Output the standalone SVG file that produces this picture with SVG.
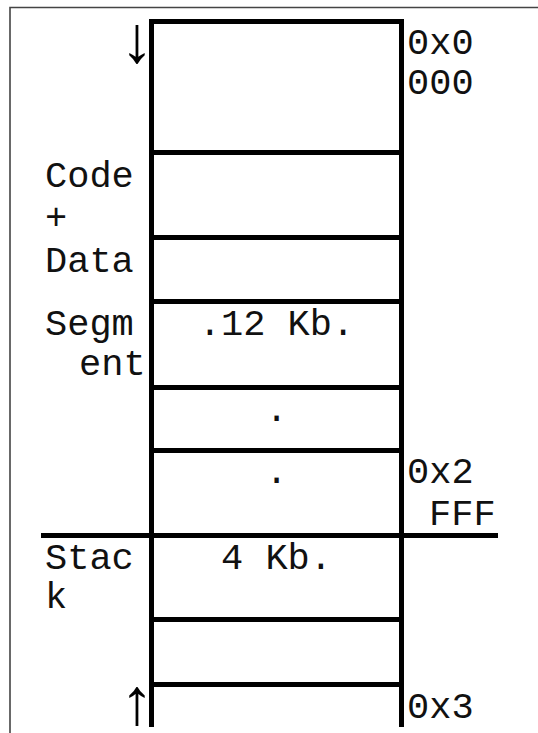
<svg xmlns="http://www.w3.org/2000/svg" width="538" height="733" viewBox="0 0 538 733">
<style>
.t{font-family:"Courier New","Liberation Mono",monospace;font-size:37px;fill:#111}
.c{text-anchor:middle}
.thick{stroke:#000;stroke-width:5;fill:none}
.frame{stroke:#444;stroke-width:1.6;fill:none}
.arr{font-family:"Liberation Sans","Noto Sans",sans-serif;font-size:66px;fill:#000;text-anchor:middle}
</style>
<rect width="538" height="733" fill="#fff"/>
<g id="frame">
<path class="frame" d="M10,733 V7.5 H538"/>
</g>
<g id="connectors">
<path class="thick" d="M151.5,19 V727 M401.5,19 V727"/>
<path class="thick" d="M149,21.5 H404 M149,152.5 H404 M149,237.5 H404 M149,301.5 H404 M149,387.5 H404 M149,450.5 H404 M41,535.5 H498 M149,619.5 H404 M149,684.5 H404"/>
</g>
<g id="code-data-labels">
<text class="t" x="45" y="187">Code</text>
<text class="t" x="45" y="229">+</text>
<text class="t" x="45" y="272">Data</text>
<text class="t" x="45" y="335">Segm</text>
<text class="t" x="79" y="375">ent</text>
</g>
<g id="stack-label">
<text class="t" x="45" y="569">Stac</text>
<text class="t" x="45" y="608">k</text>
</g>
<g id="cell-code">
<text class="t c" x="276.5" y="335">.12 Kb.</text>
</g>
<g id="cell-dot1">
<text class="t c" x="276.5" y="421">.</text>
</g>
<g id="cell-dot2">
<text class="t c" x="276.5" y="483">.</text>
</g>
<g id="cell-stack">
<text class="t c" x="276.5" y="569">4 Kb.</text>
</g>
<g id="addr-top">
<text class="t" x="407" y="54">0x0</text>
<text class="t" x="407" y="94">000</text>
</g>
<g id="addr-mid">
<text class="t" x="407" y="483">0x2</text>
<text class="t" x="429" y="525">FFF</text>
</g>
<g id="addr-bottom">
<text class="t" x="407" y="718">0x3</text>
</g>
<g id="arrows">
<text class="arr" x="137" y="62">↓</text>
<text class="arr" x="137" y="724">↑</text>
</g>
</svg>
